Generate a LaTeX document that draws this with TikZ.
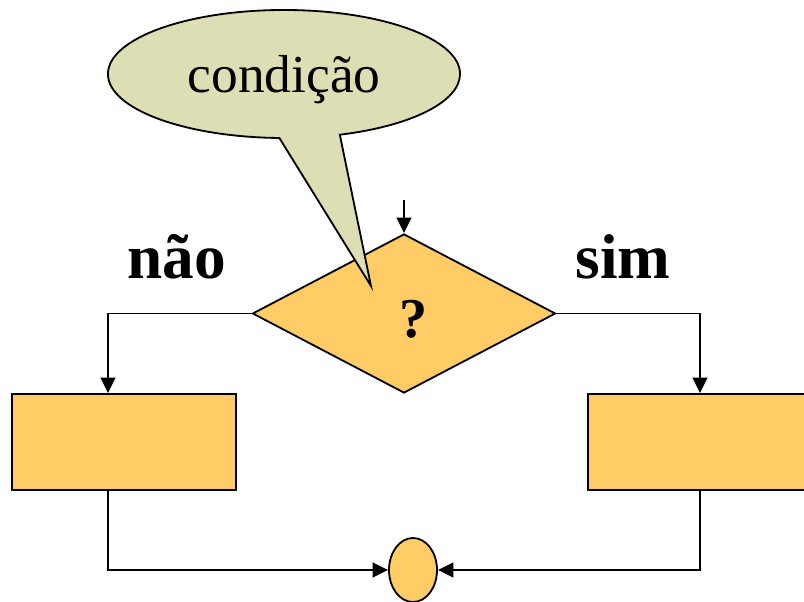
\documentclass[tikz,border=0pt]{standalone}
\usepackage{fontspec}
\setmainfont{Liberation Serif}
\usetikzlibrary{shapes.geometric,shapes.callouts,arrows.meta}
\definecolor{boxfill}{RGB}{255,204,102}
\definecolor{notefill}{RGB}{222,222,180}
\begin{document}
\begin{tikzpicture}[x=0.025cm,y=-0.025cm,
    shape line/.style={draw=black,line width=1.3pt},
    block/.style={shape line,fill=boxfill,rectangle,minimum width=5.6cm,minimum height=2.4cm,inner sep=0pt},
    flow/.style={black,line width=1.4pt,-{Triangle[length=11pt,width=10.5pt]}},
    word/.style={font=\bfseries\fontsize{45}{48}\selectfont,inner sep=0pt}]
    \useasboundingbox (0,0) rectangle (804,602);
    \node [shape line,fill=boxfill,diamond,minimum width=7.575cm,minimum height=3.975cm,inner sep=0pt] (test) at (404,313.5) {};
    \node [word,font=\bfseries\fontsize{40}{44}\selectfont] (mark) at (414,319) {?};
    \node [block] (no) at (124,442) {};
    \node [block] (yes) at (700,442) {};
    \node [shape line,fill=boxfill,ellipse,minimum width=1.2cm,minimum height=1.6cm,inner sep=0pt] (join) at (413,570) {};
    \coordinate (tip) at (371,286);
    \node [shape line,fill=notefill,ellipse callout,minimum width=8.8cm,minimum height=3.2cm,inner sep=0pt,
        callout absolute pointer={(tip)},callout pointer arc=20,text depth=0pt,
        font=\fontsize{38}{40}\selectfont] (note) at (284,74) {condição};
    \node [word] (lno) at (177,257) {não};
    \node [word] (lyes) at (623,257) {sim};
    \coordinate (entry) at (404,200);
    \draw [flow] (entry) -- (test.north);
    \draw [flow] (test.west) -| ([xshift=-0.4cm]no.north);
    \draw [flow] (test.east) -| (yes.north);
    \draw [flow] ([xshift=-0.4cm]no.south) |- (join.west);
    \draw [flow] (yes.south) |- (join.east);
\end{tikzpicture}
\end{document}
